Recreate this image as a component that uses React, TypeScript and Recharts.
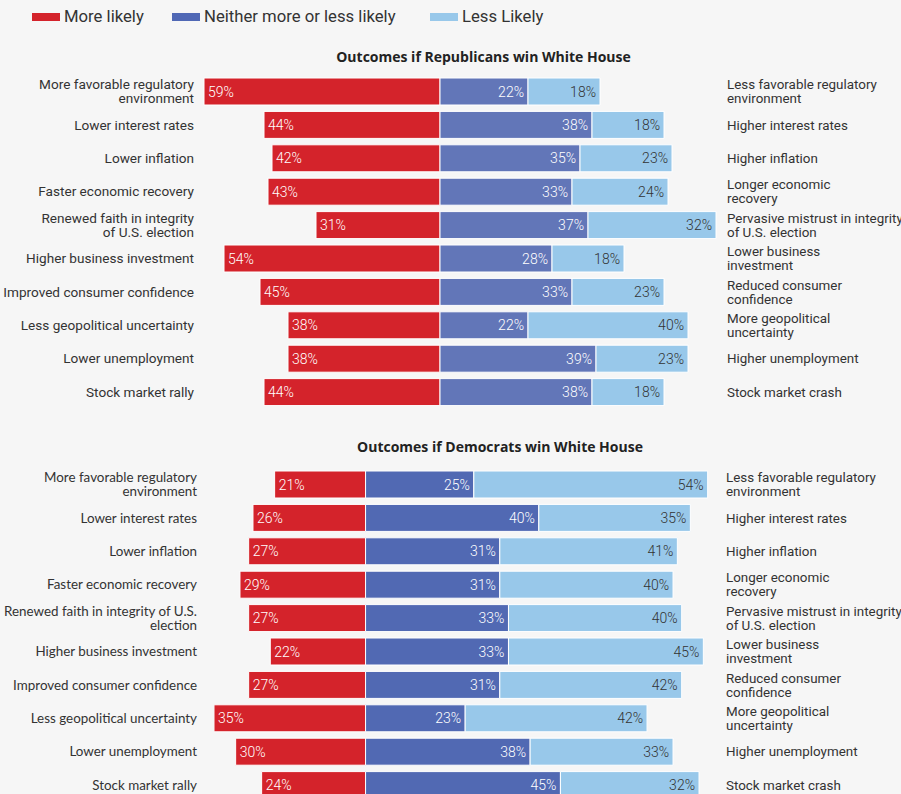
import React from 'react';
import { BarChart, Bar, XAxis, YAxis, LabelList } from 'recharts';

const repOutcomes = [
  'More favorable regulatory\nenvironment',
  'Lower interest rates',
  'Lower inflation',
  'Faster economic recovery',
  'Renewed faith in integrity\nof U.S. election',
  'Higher business investment',
  'Improved consumer confidence',
  'Less geopolitical uncertainty',
  'Lower unemployment',
  'Stock market rally',
];
const repOpposites = [
  'Less favorable regulatory\nenvironment',
  'Higher interest rates',
  'Higher inflation',
  'Longer economic\nrecovery',
  'Pervasive mistrust in integrity\nof U.S. election',
  'Lower business\ninvestment',
  'Reduced consumer\nconfidence',
  'More geopolitical\nuncertainty',
  'Higher unemployment',
  'Stock market crash',
];
const repMore = [59, 44, 42, 43, 31, 54, 45, 38, 38, 44];
const repNeither = [22, 38, 35, 33, 37, 28, 33, 22, 39, 38];
const repLess = [18, 18, 23, 24, 32, 18, 23, 40, 23, 18];

const demOutcomes = [
  'More favorable regulatory\nenvironment',
  'Lower interest rates',
  'Lower inflation',
  'Faster economic recovery',
  'Renewed faith in integrity of U.S.\nelection',
  'Higher business investment',
  'Improved consumer confidence',
  'Less geopolitical uncertainty',
  'Lower unemployment',
  'Stock market rally',
];
const demOpposites = [
  'Less favorable regulatory\nenvironment',
  'Higher interest rates',
  'Higher inflation',
  'Longer economic\nrecovery',
  'Pervasive mistrust in integrity\nof U.S. election',
  'Lower business\ninvestment',
  'Reduced consumer\nconfidence',
  'More geopolitical\nuncertainty',
  'Higher unemployment',
  'Stock market crash',
];
const demMore = [21, 26, 27, 29, 27, 22, 27, 35, 30, 24];
const demNeither = [25, 40, 31, 31, 33, 33, 31, 23, 38, 45];
const demLess = [54, 35, 41, 40, 40, 45, 42, 42, 33, 32];

const legendItems = ['More likely', 'Neither more or less likely', 'Less Likely'];

const RED = '#d4232b';
const LIGHT = '#98c8ea';
const TEXT = '#333';

const buildRows = (outcomes: string[], opposites: string[], more: number[], neither: number[], less: number[]) =>
  outcomes.map((o, i) => ({
    outcome: o,
    opposite: opposites[i],
    more: -more[i],
    neither: neither[i],
    less: less[i],
  }));

const MultiTick = (props: any) => {
  const { x, y, payload, anchor, font, size } = props;
  const lines = String(payload.value).split('\n');
  const lh = 14;
  return (
    <text x={x} y={y} textAnchor={anchor} fontFamily={font} fontSize={size} fill={TEXT}>
      {lines.map((l: string, i: number) => (
        <tspan key={i} x={x} dy={i === 0 ? -((lines.length - 1) * lh) / 2 + 4.5 : lh}>
          {l}
        </tspan>
      ))}
    </text>
  );
};

const barLabel = (side: 'start' | 'end', fill: string) => (props: any) => {
  const x = Number(props.x);
  const w = Number(props.width);
  const y = Number(props.y);
  const h = Number(props.height);
  const x0 = Math.min(x, x + w);
  const x1 = Math.max(x, x + w);
  const tx = side === 'start' ? x0 + 4 : x1 - 4;
  return (
    <text x={tx} y={y + h / 2} dy={5} textAnchor={side} fill={fill} fontSize={14} fontWeight={300} fontFamily="Roboto, sans-serif">
      {Math.abs(Number(props.value))}%
    </text>
  );
};

type PanelProps = {
  rows: any[];
  domain: [number, number];
  leftWidth: number;
  rightWidth: number;
  leftMargin: number;
  rightMargin: number;
  leftFont: string;
  leftSize: number;
  blue: string;
};

function Panel({ rows, domain, leftWidth, rightWidth, leftMargin, rightMargin, leftFont, leftSize, blue }: PanelProps) {
  return (
    <BarChart
      width={901}
      height={334}
      data={rows}
      layout="vertical"
      stackOffset="sign"
      margin={{ top: 0, right: 0, bottom: 0, left: 0 }}
      barSize={27}
    >
      <XAxis type="number" domain={domain} hide allowDataOverflow />
      <YAxis
        yAxisId="left"
        type="category"
        dataKey="outcome"
        width={leftWidth}
        axisLine={false}
        tickLine={false}
        tickSize={0}
        tickMargin={leftMargin}
        interval={0}
        tick={(p: any) => <MultiTick {...p} anchor="end" font={leftFont} size={leftSize} />}
      />
      <YAxis
        yAxisId="right"
        orientation="right"
        type="category"
        dataKey="opposite"
        width={rightWidth}
        axisLine={false}
        tickLine={false}
        tickSize={0}
        tickMargin={rightMargin}
        interval={0}
        tick={(p: any) => <MultiTick {...p} anchor="start" font="Roboto, sans-serif" size={13.4} />}
      />
      <Bar yAxisId="left" dataKey="more" stackId="a" fill={RED} stroke="#fff" strokeWidth={1} isAnimationActive={false}>
        <LabelList dataKey="more" content={barLabel('start', '#fff')} />
      </Bar>
      <Bar yAxisId="left" dataKey="neither" stackId="a" fill={blue} stroke="#fff" strokeWidth={1} isAnimationActive={false}>
        <LabelList dataKey="neither" content={barLabel('end', '#fff')} />
      </Bar>
      <Bar yAxisId="left" dataKey="less" stackId="a" fill={LIGHT} stroke="#fff" strokeWidth={1} isAnimationActive={false}>
        <LabelList dataKey="less" content={barLabel('end', TEXT)} />
      </Bar>
    </BarChart>
  );
}

export default function App() {
  const repRows = buildRows(repOutcomes, repOpposites, repMore, repNeither, repLess);
  const demRows = buildRows(demOutcomes, demOpposites, demMore, demNeither, demLess);
  const swatches = [RED, '#5068b5', LIGHT];
  const legendX = [32, 172, 430];

  return (
    <div
      style={{
        position: 'absolute',
        left: 0,
        top: 0,
        width: 901,
        height: 794,
        overflow: 'hidden',
        background: '#f6f6f6',
        fontFamily: 'Roboto, sans-serif',
        color: TEXT,
      }}
    >
      {legendItems.map((name, i) => (
        <div key={name} style={{ position: 'absolute', left: legendX[i], top: 7, display: 'flex', alignItems: 'center', whiteSpace: 'nowrap' }}>
          <span style={{ display: 'inline-block', width: 28, height: 8, background: swatches[i], marginRight: 4 }} />
          <span style={{ fontSize: 16.7 }}>{name}</span>
        </div>
      ))}
      <div style={{ position: 'absolute', left: 0, width: 967, top: 47, textAlign: 'center', fontWeight: 700, fontSize: 14, fontFamily: '"Open Sans", sans-serif', color: '#222' }}>
        Outcomes if Republicans win White House
      </div>
      <div style={{ position: 'absolute', left: 0, top: 75 }}>
        <Panel
          rows={repRows}
          domain={[-60, 70]}
          leftWidth={200}
          rightWidth={181}
          leftMargin={6}
          rightMargin={7}
          leftFont="Roboto, sans-serif"
          leftSize={13.6}
          blue="#6276b8"
        />
      </div>
      <div style={{ position: 'absolute', left: 0, width: 1000, top: 437, textAlign: 'center', fontWeight: 700, fontSize: 14, fontFamily: '"Open Sans", sans-serif', color: '#222' }}>
        Outcomes if Democrats win White House
      </div>
      <div style={{ position: 'absolute', left: 0, top: 468 }}>
        <Panel
          rows={demRows}
          domain={[-35, 80]}
          leftWidth={214}
          rightWidth={189}
          leftMargin={17}
          rightMargin={14}
          leftFont="Lato, sans-serif"
          leftSize={13.4}
          blue="#5169b3"
        />
      </div>
    </div>
  );
}
